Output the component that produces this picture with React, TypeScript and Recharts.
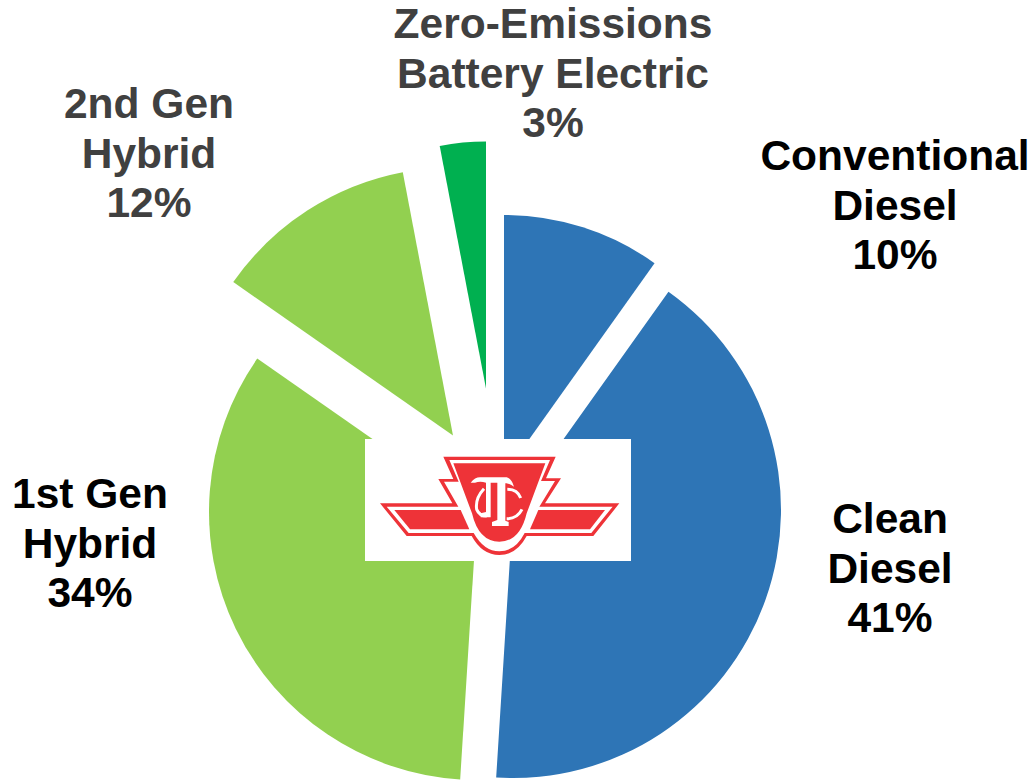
import { PieChart, Pie, Cell, Sector } from 'recharts';

const categories = ['Conventional Diesel', 'Clean Diesel', '1st Gen Hybrid', '2nd Gen Hybrid', 'Zero-Emissions Battery Electric'];
const shares = [9.85, 41.15, 33.7, 12.3, 3];
const labelLines = [
  ['Conventional', 'Diesel'],
  ['Clean', 'Diesel'],
  ['1st Gen', 'Hybrid'],
  ['2nd Gen', 'Hybrid'],
  ['Zero-Emissions', 'Battery Electric'],
];

const colors = ['#2E75B6', '#2E75B6', '#92D050', '#92D050', '#00B050'];
const labelColors = ['#000000', '#000000', '#000000', '#404040', '#404040'];
const explodeX = [10, 19, -17, -41, -8];
const explodeY = [-28.5, 7, 9, -67.5, -114.5];
const radii = [259.5, 268, 268, 268, 247];
const labelX = [895, 890, 90, 149, 553];
const labelY = [170, 533, 508, 118, 38];

const data = categories.map((name, i) => ({ name, value: shares[i] }));

const WIDTH = 1035;
const HEIGHT = 781;
const CX = 494;
const CY = 503;

function ExplodedSlice(props: any) {
  const i = categories.indexOf(props.name);
  return (
    <Sector
      {...props}
      cx={props.cx + explodeX[i]}
      cy={props.cy + explodeY[i]}
      outerRadius={radii[i]}
      stroke="none"
    />
  );
}

function SliceLabel(props: any) {
  const i = props.index;
  const lines = [...labelLines[i], `${Math.round(shares[i])}%`];
  return (
    <text
      x={labelX[i]}
      y={labelY[i]}
      textAnchor="middle"
      fill={labelColors[i]}
      fontFamily="'Liberation Sans', Arial, sans-serif"
      fontWeight="bold"
      fontSize={42.5}
    >
      {lines.map((line, n) => (
        <tspan key={n} x={labelX[i]} dy={n === 0 ? 0 : 49.5}>
          {line}
        </tspan>
      ))}
    </text>
  );
}

// TTC logo on its white card, drawn on top of the pie centre
function Logo() {
  return (
    <svg
      viewBox="0 0 840 420"
      width={280}
      height={140}
      style={{ position: 'absolute', left: 360, top: 430 }}
    >
      <rect x={15} y={27} width={798} height={366} fill="#fff" />
      <path
        d="M250 80 L587 80 L558 145 L603 145 L555 220 L778 220 L700 318 L500 318 Q470 375 418 375 Q366 375 335 318 L140 318 L60 220 L277 220 L235 147 L280 147 Z"
        fill="#EE3338"
      />
      <path
        d="M268 90 L570 90 L543 153 L585 153 L538 230 L758 230 L694 309 L494 309 Q466 364 418 364 Q372 364 341 309 L146 309 L80 230 L295 230 L252 155 L296 155 Z"
        fill="#fff"
      />
      <path
        d="M280 100 L556 100 L500 250 Q480 335 418 335 Q356 335 336 250 Z"
        fill="#EE3338"
      />
      <path d="M103 240 L302 240 L328 298 L150 298 Z" fill="#EE3338" />
      <path d="M735 240 L535 240 L510 298 L690 298 Z" fill="#EE3338" />
      <path
        d="M332 158 Q345 142 360 142 L440 142 Q455 146 462 170 Q445 158 428 158 L436 158 L436 272 L446 276 L446 288 L396 288 L396 276 L412 270 L412 158 L392 158 L392 262 L362 262 L362 250 L378 246 L378 158 Q360 152 345 158 Z"
        fill="#fff"
      />
      <path d="M372 176 Q345 205 350 238 Q358 258 380 258" fill="none" stroke="#fff" strokeWidth={9} />
      <path d="M442 178 Q472 178 482 204" fill="none" stroke="#fff" strokeWidth={9} />
      <path d="M440 266 Q472 266 486 238" fill="none" stroke="#fff" strokeWidth={9} />
    </svg>
  );
}

export default function App() {
  return (
    <div style={{ position: 'absolute', left: 0, top: 0, width: WIDTH, height: HEIGHT, background: '#fff' }}>
      <PieChart width={WIDTH} height={HEIGHT} margin={{ top: 0, right: 0, bottom: 0, left: 0 }}>
        <Pie
          data={data}
          dataKey="value"
          nameKey="name"
          cx={CX}
          cy={CY}
          outerRadius={265}
          startAngle={90}
          endAngle={-270}
          paddingAngle={0}
          stroke="none"
          shape={ExplodedSlice}
          label={SliceLabel}
          labelLine={false}
          isAnimationActive={false}
        >
          {data.map((d, i) => (
            <Cell key={d.name} fill={colors[i]} />
          ))}
        </Pie>
      </PieChart>
      <Logo />
    </div>
  );
}
